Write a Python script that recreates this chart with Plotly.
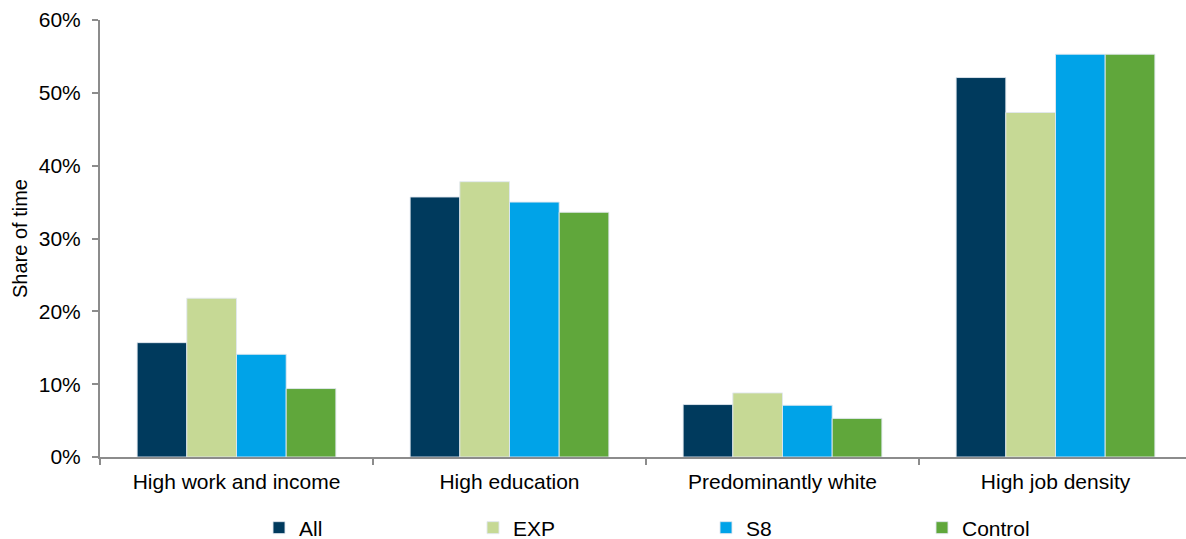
import plotly.graph_objects as go

categories = ["High work and income", "High education", "Predominantly white", "High job density"]
series_names = ["All", "EXP", "S8", "Control"]
all_vals = [0.157, 0.357, 0.072, 0.521]
exp_vals = [0.218, 0.378, 0.088, 0.473]
s8_vals = [0.141, 0.350, 0.071, 0.553]
control_vals = [0.094, 0.336, 0.053, 0.553]
y_ticks = [0, 0.1, 0.2, 0.3, 0.4, 0.5, 0.6]
y_tick_labels = ["0%", "10%", "20%", "30%", "40%", "50%", "60%"]

colors = ["#003A5D", "#C6D995", "#00A3E8", "#60A73B"]
values = [all_vals, exp_vals, s8_vals, control_vals]
legend_ids = ["legend", "legend2", "legend3", "legend4"]
legend_x_px = [259, 473, 706, 922]

W, H = 1186, 539
FONT = "Liberation Sans, Arial, sans-serif"
FS = 21

fig = go.Figure()
for name, vals, col, lg in zip(series_names, values, colors, legend_ids):
    fig.add_trace(go.Bar(
        x=categories, y=vals, name=name, legend=lg, showlegend=True,
        marker=dict(color=col, line=dict(color="rgba(225,232,240,0.9)", width=1)),
    ))

layout_legends = {}
for lg, px in zip(legend_ids, legend_x_px):
    layout_legends[lg] = dict(
        xref="container", yref="container", x=px / W, y=1 - 528 / H,
        xanchor="left", yanchor="middle", orientation="h",
        font=dict(family=FONT, size=FS, color="#000000"),
        bgcolor="rgba(0,0,0,0)", borderwidth=0, itemwidth=30,
    )

fig.update_layout(
    width=W, height=H,
    margin=dict(l=100, r=0, t=20, b=82),
    plot_bgcolor="white", paper_bgcolor="white",
    showlegend=True,
    barmode="group", bargap=0.272, bargroupgap=0,
    font=dict(family=FONT, size=FS, color="#000000"),
    xaxis=dict(
        range=[-0.5, 3.478], showline=True, linecolor="#8C8C8C", linewidth=2,
        ticks="outside", tickson="boundaries", ticklen=6, tickcolor="#8C8C8C", tickwidth=2,
        showgrid=False, tickfont=dict(size=FS), ticklabelstandoff=5,
    ),
    yaxis=dict(
        range=[0, 0.6], tickvals=y_ticks, ticktext=y_tick_labels,
        showline=True, linecolor="#8C8C8C", linewidth=2,
        ticks="outside", ticklen=6, tickcolor="#8C8C8C", tickwidth=2,
        showgrid=False, zeroline=False, tickfont=dict(size=FS), ticklabelstandoff=7,
        title=dict(text="Share of time", font=dict(size=20), standoff=6),
    ),
    **layout_legends,
)

fig.write_html("out.html")
